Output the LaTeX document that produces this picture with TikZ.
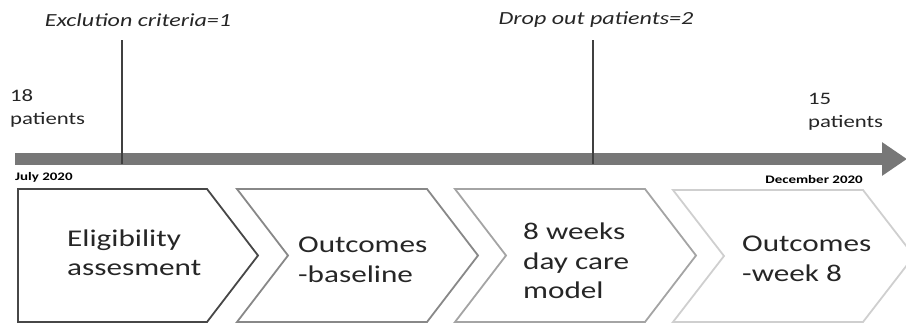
\documentclass[tikz,border=0pt]{standalone}
\usepackage{fontspec}
\setmainfont{Carlito}[FakeStretch=1.3]
\usetikzlibrary{arrows.meta, positioning}
\definecolor{grisBarra}{HTML}{777777}
\definecolor{grisMarca}{HTML}{404040}
\definecolor{grisTexto}{HTML}{262626}
\colorlet{colFaseA}{grisTexto!85}
\colorlet{colFaseB}{grisTexto!55}
\colorlet{colFaseC}{grisTexto!42}
\colorlet{colFaseD}{grisTexto!22}
\tikzset{
  faseBase/.style={line width=1.8pt, line join=miter},
  faseA/.style={faseBase, draw=colFaseA},
  faseB/.style={faseBase, draw=colFaseB},
  faseC/.style={faseBase, draw=colFaseC},
  faseD/.style={faseBase, draw=colFaseD},
  textoFase/.style={font=\fontsize{24}{29.5}\selectfont, text=grisTexto, align=left,
    inner sep=0pt, anchor=west},
  barra/.style={-{Triangle[length=25pt, width=32pt]}, line width=12pt, grisBarra},
  marca/.style={line width=2.6pt, grisMarca},
  evento/.style={font=\fontsize{18.5}{22}\selectfont\itshape, text=grisTexto, inner sep=0pt},
  conteo/.style={font=\fontsize{17.5}{23}\selectfont, text=grisTexto, align=left,
    inner sep=0pt, anchor=west},
  fecha/.style={font=\fontsize{11.5}{14}\selectfont\bfseries, text=black, inner sep=0pt},
}
\begin{document}
\begin{tikzpicture}[x=1pt, y=-1pt]
  \useasboundingbox (0,0) rectangle (906,324);
  % linea de tiempo
  \coordinate (inicio) at (15,159);
  \coordinate (fin) at (907,159);
  \draw[barra] (inicio) -- (fin);
  \node[fecha, anchor=west] (julio) at (15,177) {July 2020};
  \node[fecha, anchor=east] (diciembre) at (863,180) {December 2020};
  \node[conteo] (inicial) at (10,108.5) {18\\patients};
  \node[conteo] (final) at (808,111.5) {15\\patients};
  % eventos
  \node[evento] (exclusion) at (138,20) {Exclution criteria=1};
  \node[evento] (abandono) at (596,20) {Drop out patients=2};
  \coordinate (exclusionArriba) at (122,40);
  \coordinate (exclusionAbajo) at (122,164);
  \coordinate (abandonoArriba) at (593,40);
  \coordinate (abandonoAbajo) at (593,164);
  \draw[marca] (exclusionArriba) -- (exclusionAbajo);
  \draw[marca] (abandonoArriba) -- (abandonoAbajo);
  % fases
  \draw[faseA] (18,189) -- (207,189) -- (258,255.5) -- (207,322) -- (18,322) -- cycle;
  \draw[faseB] (237,189) -- (427,189) -- (478,255.5) -- (427,322) -- (237,322)
    -- (288,255.5) -- cycle;
  \draw[faseC] (455,189) -- (645,189) -- (696,255.5) -- (645,322) -- (455,322)
    -- (506,255.5) -- cycle;
  \draw[faseD] (673,190) -- (863,190) -- (914,256) -- (863,322) -- (673,322)
    -- (724,256) -- cycle;
  \node[textoFase] (elegibilidad) at (67,253) {Eligibility\\assesment};
  \node[textoFase] (basal) at (298,260) {Outcomes\\-baseline};
  \node[textoFase] (modelo) at (523,261) {8 weeks\\day care\\model};
  \node[textoFase] (semana) at (742,259) {Outcomes\\-week 8};
\end{tikzpicture}
\end{document}
